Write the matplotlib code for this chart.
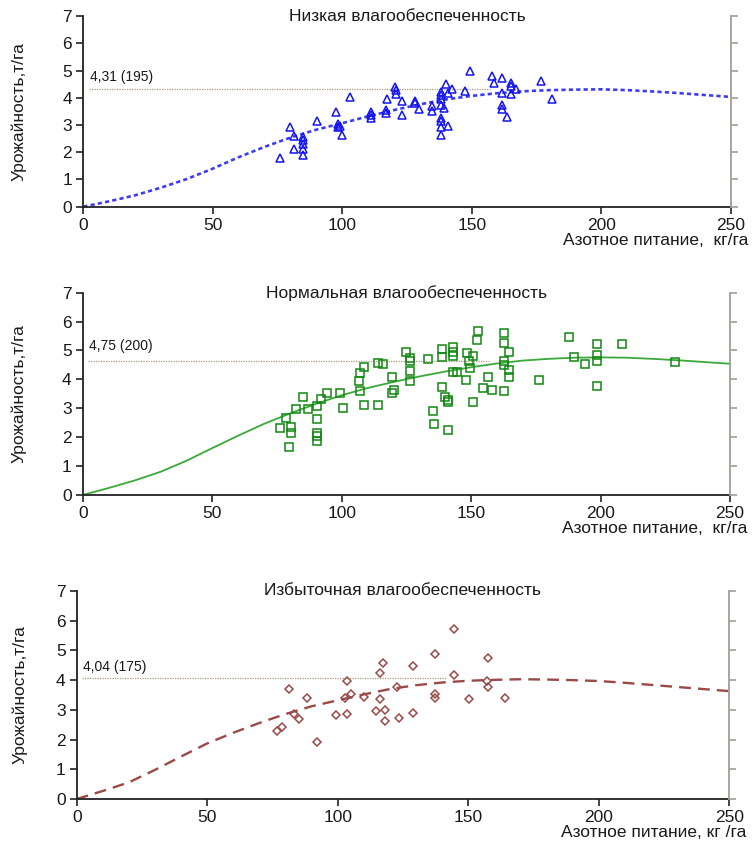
"""Урожайность vs азотное питание при разной влагообеспеченности -> out.png"""

import matplotlib
matplotlib.use("Agg")
import matplotlib.pyplot as plt

plt.rcParams["font.family"] = ["Liberation Sans", "DejaVu Sans"]

CURVE_X = [0, 10, 20, 30, 40, 50, 60, 70, 80, 90, 100, 110, 120, 130, 140,
           150, 160, 170, 180, 190, 200, 210, 220, 230, 240, 250]
LOW_CURVE = [0, 0.20, 0.42, 0.70, 1.02, 1.40, 1.82, 2.20, 2.54, 2.83, 3.07,
             3.32, 3.55, 3.76, 3.94, 4.07, 4.17, 4.24, 4.28, 4.30, 4.31,
             4.28, 4.23, 4.17, 4.10, 4.03]
NORM_CURVE = [0, 0.24, 0.50, 0.80, 1.18, 1.62, 2.05, 2.46, 2.82, 3.15, 3.45,
              3.70, 3.91, 4.10, 4.27, 4.42, 4.55, 4.65, 4.71, 4.75, 4.76,
              4.75, 4.71, 4.66, 4.60, 4.54]
HIGH_CURVE = [0, 0.27, 0.56, 0.98, 1.43, 1.87, 2.23, 2.56, 2.86, 3.12, 3.32,
              3.52, 3.70, 3.83, 3.92, 3.98, 4.01, 4.03, 4.02, 4.00, 3.97,
              3.91, 3.84, 3.77, 3.70, 3.63]

# observations
LOW_X = [75.8, 79.9, 81.2, 81.2, 84.6, 84.6, 84.6, 84.6, 84.6, 90.2, 97.7,
         98.3, 99.0, 98.3, 100.0, 103.1, 111.2, 111.2, 111.2, 116.7, 116.7,
         117.3, 120.3, 120.6, 120.8, 122.9, 122.9, 128.0, 128.0, 129.5,
         134.5, 134.5, 138.0, 138.0, 138.0, 138.0, 138.0, 138.0, 138.0,
         138.0, 139.3, 140.1, 140.7, 140.7, 142.4, 147.3, 149.3, 157.8,
         158.6, 161.7, 161.7, 161.7, 161.7, 163.7, 165.1, 165.1, 165.1,
         167.1, 176.8, 181.0]
LOW_Y = [1.79, 2.94, 2.60, 2.12, 2.55, 2.45, 2.30, 2.12, 1.89, 3.14, 3.48,
         3.04, 2.97, 2.94, 2.62, 4.02, 3.46, 3.37, 3.25, 3.55, 3.43, 3.97,
         4.38, 4.29, 4.14, 3.89, 3.38, 3.89, 3.80, 3.58, 3.68, 3.53, 4.23,
         4.11, 3.97, 3.73, 3.25, 3.16, 2.92, 2.65, 3.62, 4.51, 4.17, 2.97,
         4.32, 4.26, 5.00, 4.80, 4.54, 4.71, 4.17, 3.74, 3.58, 3.30, 4.56,
         4.44, 4.14, 4.32, 4.61, 3.97]

NORM_X = [76.2, 78.4, 80.3, 80.3, 79.8, 82.4, 85.0, 87.0, 90.6, 90.6, 90.6,
          90.6, 90.6, 91.9, 94.2, 99.4, 100.4, 106.6, 107.1, 107.1, 108.7,
          108.7, 114.2, 114.2, 116.1, 119.3, 119.3, 120.2, 124.9, 126.4,
          126.4, 126.4, 126.4, 133.5, 135.4, 135.7, 138.7, 138.7, 138.7,
          140.1, 141.1, 141.1, 141.1, 143.1, 143.1, 143.1, 143.1, 144.5,
          148.6, 149.0, 149.4, 148.2, 150.6, 150.6, 152.8, 152.4, 154.5,
          156.5, 158.1, 162.7, 162.7, 162.7, 162.7, 162.7, 164.8, 164.8,
          164.8, 176.4, 187.7, 189.8, 193.9, 198.5, 198.5, 198.5, 198.5,
          208.3, 228.7]
NORM_Y = [2.31, 2.68, 2.36, 2.16, 1.67, 2.99, 3.40, 2.99, 3.08, 2.63, 2.13,
          2.04, 1.88, 3.31, 3.54, 3.54, 3.00, 3.94, 4.23, 3.58, 4.44, 3.13,
          4.58, 3.11, 4.53, 4.07, 3.54, 3.63, 4.95, 4.73, 4.65, 4.30, 3.96,
          4.72, 2.90, 2.45, 5.04, 4.76, 3.73, 3.40, 3.29, 3.22, 2.26, 5.13,
          4.96, 4.81, 4.26, 4.26, 4.92, 4.63, 4.38, 3.98, 4.81, 3.21, 5.67,
          5.35, 3.71, 4.07, 3.63, 5.59, 5.27, 4.64, 4.50, 3.58, 4.95, 4.33,
          4.07, 3.99, 5.46, 4.76, 4.53, 5.22, 4.83, 4.63, 3.76, 5.22, 4.61]

HIGH_X = [76.6, 78.7, 81.5, 83.3, 85.1, 88.1, 92.2, 99.3, 102.9, 103.7,
          103.7, 105.0, 110.1, 114.6, 116.2, 116.2, 117.5, 118.1, 118.1,
          122.6, 123.6, 128.7, 128.7, 137.4, 137.4, 137.4, 144.6, 144.6,
          150.4, 157.6, 157.1, 157.6, 164.2]
HIGH_Y = [2.29, 2.42, 3.71, 2.86, 2.68, 3.40, 1.93, 2.82, 3.40, 3.98, 2.86,
          3.54, 3.44, 2.95, 4.25, 3.36, 4.56, 3.00, 2.64, 3.76, 2.74, 4.47,
          2.91, 4.87, 3.54, 3.40, 5.71, 4.16, 3.36, 4.74, 3.98, 3.76, 3.40]

# optimum: yield, nitrogen dose, where the reference line is drawn
TITLES = ["Низкая влагообеспеченность", "Нормальная влагообеспеченность",
          "Избыточная влагообеспеченность"]
OPT_LABELS = ["4,31 (195)", "4,75 (200)", "4,04 (175)"]
OPT_LEVEL = [4.31, 4.64, 4.06]
OPT_END = [157, 157, 142]
XLABELS = ["Азотное питание,  кг/га", "Азотное питание,  кг/га",
           "Азотное питание, кг /га"]

INK, SPINE, RSPINE, REF = "#1a1a1a", "#222222", "#a39e96", "#a8987a"

panels = [
    # rect (fig fraction), points, curve, marker, colours, linestyle, lw,
    # label lift (px), ylabel x (axes fraction)
    ([0.1108, 0.7565, 0.8613, 0.2246], LOW_X, LOW_Y, LOW_CURVE, "^",
     "#1414f0", "#3c3cf5", (0, (1.6, 1.2)), 1.9, 12, -0.087),
    ([0.1100, 0.4170, 0.8608, 0.2383], NORM_X, NORM_Y, NORM_CURVE, "s",
     "#118811", "#3aa83a", "-", 1.3, 15, -0.087),
    ([0.1020, 0.0589, 0.8678, 0.2450], HIGH_X, HIGH_Y, HIGH_CURVE, "D",
     "#9a4a48", "#9a4a48", (0, (5, 3)), 1.7, 11, -0.076),
]

fig = plt.figure(figsize=(7.52, 8.49), dpi=100, facecolor="white")

for i, (rect, px, py, curve, mk, mcol, lcol, ls, lw, lift,
        ylx) in enumerate(panels):
    ax = fig.add_axes(rect)
    ax.set_xlim(0, 250)
    ax.set_ylim(0, 7)
    ax.set_xticks([0, 50, 100, 150, 200, 250])
    ax.set_yticks(range(8))

    ax.plot(CURVE_X, curve, color=lcol, linestyle=ls, linewidth=lw,
            zorder=2, clip_on=False)
    ms = 4.2 if mk == "D" else 5.3
    ax.plot(px, py, linestyle="none", marker=mk, markersize=ms,
            markerfacecolor="none", markeredgecolor=mcol,
            markeredgewidth=1.1, zorder=3)

    ax.plot([2, OPT_END[i]], [OPT_LEVEL[i], OPT_LEVEL[i]], color=REF,
            linestyle=(0, (1, 1)), linewidth=0.9, zorder=1)
    ax.annotate(OPT_LABELS[i], xy=(2.5, OPT_LEVEL[i]), xytext=(0, lift),
                textcoords="offset pixels", fontsize=10, color=INK,
                va="center", ha="left")

    for side in ("top", "right"):
        ax.spines[side].set_visible(False)
    for side in ("left", "bottom"):
        ax.spines[side].set_color(SPINE)
        ax.spines[side].set_linewidth(1.3)
    ax.tick_params(axis="both", direction="out", length=5, width=1.2,
                   colors=SPINE, labelcolor=INK, labelsize=12.5, pad=3)

    # grey secondary y axis on the right, ticks only
    rax = ax.twinx()
    rax.set_ylim(0, 7)
    rax.set_yticks(range(8))
    rax.set_yticklabels([])
    for side in ("top", "left", "bottom"):
        rax.spines[side].set_visible(False)
    rax.spines["right"].set_color(RSPINE)
    rax.spines["right"].set_linewidth(1.3)
    rax.tick_params(axis="y", direction="out", length=5, width=1.2,
                    colors=RSPINE)

    ax.text(0.5, 1.0, TITLES[i], transform=ax.transAxes, ha="center",
            va="center", fontsize=12.5, color=INK)
    ax.set_ylabel("Урожайность,т/га", fontsize=12.5, color=INK)
    ax.yaxis.set_label_coords(ylx, 0.5)
    ax.annotate(XLABELS[i], xy=(1, 0), xycoords="axes fraction",
                xytext=(17, -34), textcoords="offset pixels", ha="right",
                va="center", fontsize=12.5, color=INK)

fig.savefig("out.png", dpi=100, facecolor="white")
